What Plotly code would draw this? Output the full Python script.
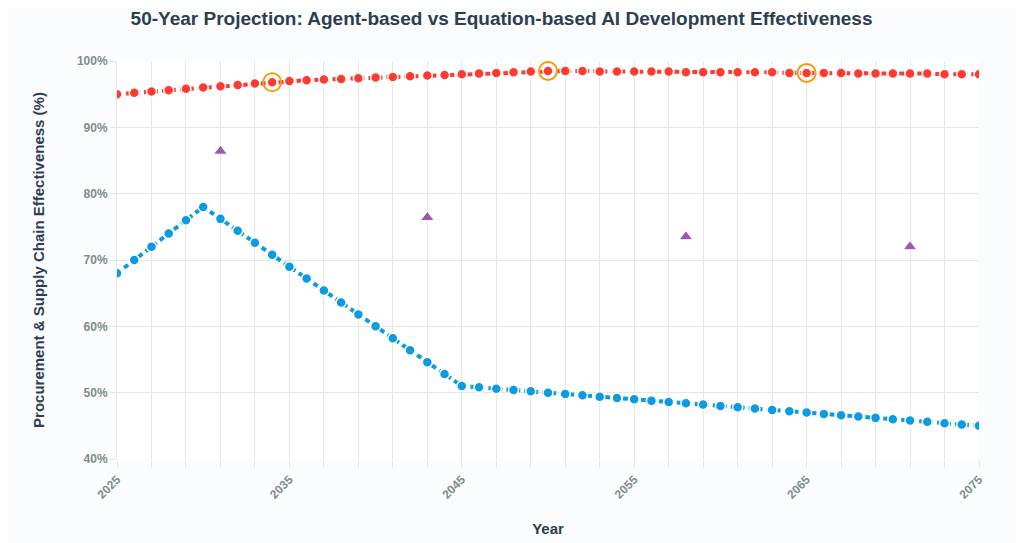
import plotly.graph_objects as go

years = list(range(2025, 2076))

agent_based = [95.0, 95.2, 95.4, 95.6, 95.8, 96.0, 96.2, 96.4, 96.6, 96.8,
               97.0, 97.1, 97.2, 97.3, 97.4, 97.5, 97.6, 97.7, 97.8, 97.9,
               98.0, 98.1, 98.2, 98.3, 98.4, 98.5, 98.5, 98.5, 98.4, 98.4,
               98.4, 98.4, 98.4, 98.3, 98.3, 98.3, 98.3, 98.3, 98.3, 98.2,
               98.2, 98.2, 98.2, 98.1, 98.1, 98.1, 98.1, 98.1, 98.0, 98.0,
               98.0]

equation_based = [68.0, 70.0, 72.0, 74.0, 76.0, 78.0, 76.2, 74.4, 72.6, 70.8,
                  69.0, 67.2, 65.4, 63.6, 61.8, 60.0, 58.2, 56.4, 54.6, 52.8,
                  51.0, 50.8, 50.6, 50.4, 50.2, 50.0, 49.8, 49.6, 49.4, 49.2,
                  49.0, 48.8, 48.6, 48.4, 48.2, 48.0, 47.8, 47.6, 47.4, 47.2,
                  47.0, 46.8, 46.6, 46.4, 46.2, 46.0, 45.8, 45.6, 45.4, 45.2,
                  45.0]

milestone_years = [2034, 2050, 2065]
milestone_values = [96.8, 98.5, 98.2]

hybrid_years = [2031, 2043, 2058, 2071]
hybrid_values = [86.4, 76.4, 73.5, 72.0]

x_tick_vals = [2025, 2035, 2045, 2055, 2065, 2075]
x_tick_text = ["2025", "2035", "2045", "2055", "2065", "2075"]
y_tick_vals = [40, 50, 60, 70, 80, 90, 100]
y_tick_text = ["40%", "50%", "60%", "70%", "80%", "90%", "100%"]

RED = "#ff3b30"
BLUE = "#0a9be2"
PURPLE = "#9b59b6"
ORANGE = "#f39c12"
DARK = "#2c3e50"
GRAY = "#7f8c8d"
GRID = "#e6e6e6"

fig = go.Figure()

fig.add_trace(go.Scatter(
    x=years, y=equation_based, mode="lines+markers", name="Equation-based AI",
    line=dict(color=BLUE, width=4, dash="5px,4px"),
    marker=dict(size=10, color=BLUE, line=dict(color="white", width=1.5)),
))

fig.add_trace(go.Scatter(
    x=years, y=agent_based, mode="lines+markers", name="Agent-based AI",
    line=dict(color=RED, width=4, dash="5px,4px"),
    marker=dict(size=10, color=RED, line=dict(color="white", width=1.5)),
))

fig.add_trace(go.Scatter(
    x=hybrid_years, y=hybrid_values, mode="markers", name="Hybrid",
    marker=dict(symbol="triangle-up", size=12, color=PURPLE,
                line=dict(color="white", width=1)),
))

fig.add_trace(go.Scatter(
    x=milestone_years, y=milestone_values, mode="markers", name="Milestones",
    marker=dict(symbol="circle-open", size=18, color=ORANGE,
                line=dict(color=ORANGE, width=2)),
))

fig.update_layout(
    width=1024, height=543,
    margin=dict(l=109, r=53, t=53, b=92),
    paper_bgcolor="#fbfcfd",
    plot_bgcolor="#ffffff",
    showlegend=False,
    font=dict(family="Liberation Sans, Arial, sans-serif"),
    title=dict(
        text="<b>50-Year Projection: Agent-based vs Equation-based AI Development Effectiveness</b>",
        x=0.482, xanchor="center", y=0.9816, yanchor="middle",
        font=dict(size=19, color=DARK),
    ),
    xaxis=dict(
        range=[2025, 2075],
        tickmode="array", tickvals=x_tick_vals, ticktext=x_tick_text,
        tickangle=-45,
        tickfont=dict(size=12, color=GRAY, family="Liberation Sans, Arial, sans-serif", weight="bold"),
        showgrid=True, gridcolor=GRID, gridwidth=1,
        ticks="outside", ticklen=8, tickcolor=GRID,
        minor=dict(dtick=2, tick0=2025, showgrid=True, gridcolor=GRID,
                   ticks="outside", ticklen=8, tickcolor=GRID),
        zeroline=False, showline=False,
        title=dict(text="<b>Year</b>", font=dict(size=15, color=DARK), standoff=22),
    ),
    yaxis=dict(
        range=[40, 100],
        tickmode="array", tickvals=y_tick_vals, ticktext=y_tick_text,
        tickfont=dict(size=12, color=GRAY, family="Liberation Sans, Arial, sans-serif", weight="bold"),
        showgrid=True, gridcolor=GRID, gridwidth=1,
        ticks="outside", ticklen=6, tickcolor=GRID,
        zeroline=False, showline=True, linecolor=GRID,
        title=dict(text="<b>Procurement &amp; Supply Chain Effectiveness (%)</b>",
                   font=dict(size=15, color=DARK), standoff=28),
    ),
)

fig.write_html("out.html")
